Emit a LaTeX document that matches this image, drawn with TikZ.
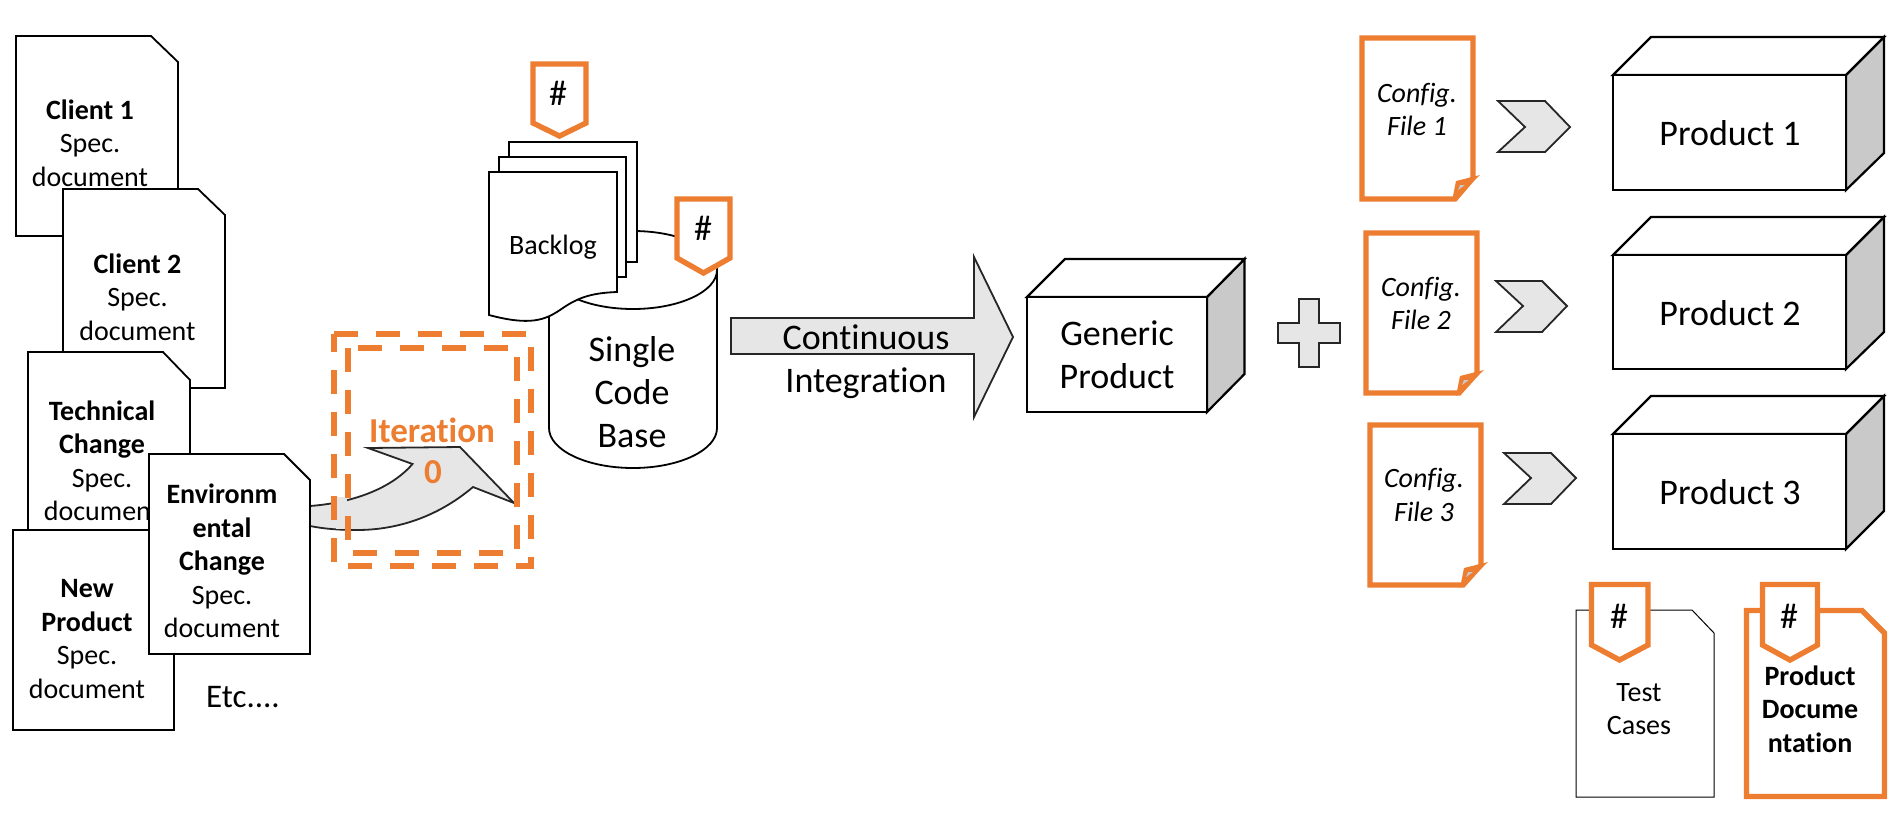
\documentclass[tikz,border=0pt]{standalone}
\usepackage{fontspec}
\setmainfont[Ligatures=NoCommon]{Carlito}
\usetikzlibrary{positioning}
\definecolor{accent}{HTML}{ED7D31}
\definecolor{arrowgrey}{HTML}{E6E6E6}
\definecolor{sidegrey}{HTML}{C9C9C9}
\tikzset{
  docline/.style={draw=black,line width=1.8pt,fill=white,line join=miter},
  orangedoc/.style={draw=accent,line width=5.4pt,fill=white,line join=miter},
  tagshape/.style={draw=accent,line width=5.4pt,fill=white,line join=miter},
  blockarrow/.style={draw=black!85,line width=1.8pt,fill=arrowgrey,line join=miter},
  cubeface/.style={draw=black,line width=2.2pt,fill=white,line join=miter},
  cubeside/.style={draw=black,line width=2.2pt,fill=sidegrey,line join=miter},
  dashbox/.style={draw=accent,line width=5.4pt,dash pattern=on 24pt off 18pt},
  small/.style={inner sep=0pt,align=center,font=\fontsize{28}{33.5}\selectfont},
  smallit/.style={inner sep=0pt,align=center,font=\fontsize{28}{33.5}\selectfont\itshape},
  large/.style={inner sep=0pt,align=center,font=\fontsize{36}{43}\selectfont},
  orangebold/.style={inner sep=0pt,font=\fontsize{35}{36}\selectfont\bfseries,text=accent},
  hash/.style={inner sep=0pt,font=\fontsize{36}{38}\selectfont}
}
\begin{document}
\begin{tikzpicture}[x=1pt,y=-1pt]
\useasboundingbox (0,0) rectangle (1898,833);
% spec documents
\draw[docline] (16,36) -- (151,36) -- (178,62) -- (178,236) -- (16,236) -- cycle;
\node[small] (client1) at (90,143) {\textbf{Client 1}\\Spec.\\document};
\draw[docline] (63,189) -- (198,189) -- (225,215) -- (225,388) -- (63,388) -- cycle;
\node[small] (client2) at (137.5,297) {\textbf{Client 2}\\Spec.\\document};
\draw[docline] (28,352) -- (163,352) -- (190,380) -- (190,552) -- (28,552) -- cycle;
\node[small] (techchange) at (102,461) {\textbf{Technical}\\\textbf{Change}\\Spec.\\document};
\draw[docline] (13,530) -- (174,530) -- (174,730) -- (13,730) -- cycle;
\node[small] (newproduct) at (87,639) {\textbf{New}\\\textbf{Product}\\Spec.\\document};
% curved arrow
\draw[blockarrow] (310,506) .. controls (350,503) and (390,490) .. (412.5,464) -- (368,448) -- (460,447) -- (514,503) -- (473,487)
  .. controls (440,515) and (400,530) .. (357,530) .. controls (340,530) and (325,529) .. (310,526);
\fill[arrowgrey] (336,497) rectangle (347,529);
\draw[docline] (149,454) -- (284,454) -- (310,480) -- (310,654) -- (149,654) -- cycle;
\node[small] (envchange) at (222,561) {\textbf{Environm}\\\textbf{ental}\\\textbf{Change}\\Spec.\\document};
\node[inner sep=0pt,font=\fontsize{33}{36}\selectfont] (etc) at (243,697) {Etc....};
% iteration frame
\draw[dashbox] (334,334) -- (531,334) -- (531,566) -- (334,566) -- cycle;
\draw[dashbox,dash phase=32pt] (348,348) -- (517,348) -- (517,553) -- (348,553) -- cycle;
\node[orangebold] (iteration) at (432,430) {Iteration};
\node[orangebold] (iterzero) at (433,472) {0};
% code base
\draw[docline] (549,428) -- (549,270) arc[start angle=180,end angle=0,x radius=84,y radius=39] -- (717,428)
  arc[start angle=0,end angle=180,x radius=84,y radius=40];
\draw[docline] (549,270) arc[start angle=180,end angle=360,x radius=84,y radius=39];
\node[large] (codebase) at (632,392) {Single\\Code\\Base};
% backlog
\draw[docline] (509,142) rectangle (637,262);
\draw[docline] (499,157) rectangle (626,277);
\draw[docline] (489,172) -- (617,172) -- (617,292) .. controls (590,293) and (577,298) .. (560,310)
  .. controls (545,320) and (530,326) .. (489,315) -- cycle;
\node[inner sep=0pt,font=\fontsize{28}{30}\selectfont] (backlog) at (553,247) {Backlog};
\draw[tagshape] (533,64) -- (586,64) -- (586,123) -- (559.5,136) -- (533,123) -- cycle;
\node[hash] (tagbacklog) at (558,93) {\#};
\draw[tagshape] (677,199) -- (730,199) -- (730,258) -- (703.5,273) -- (677,258) -- cycle;
\node[hash] (tagcode) at (703,228) {\#};
% continuous integration
\draw[blockarrow] (731,318) -- (974,318) -- (974,257) -- (1013,337) -- (974,417) -- (974,354) -- (731,354) -- cycle;
\node[large] (ci) at (866,362) {Continuous\\Integration};
% generic product
\draw[cubeside] (1207,297) -- (1244.5,259) -- (1244.5,374) -- (1207,412) -- cycle;
\draw[cubeface] (1027,297) -- (1065,259) -- (1244.5,259) -- (1207,297) -- cycle;
\draw[cubeface] (1027,297) rectangle (1207,412);
\node[large] (generic) at (1117,355) {Generic\\Product};
% plus
\draw[blockarrow] (1299,299) -- (1319,299) -- (1319,323) -- (1340,323) -- (1340,343) -- (1319,343) -- (1319,367)
  -- (1299,367) -- (1299,343) -- (1278,343) -- (1278,323) -- (1299,323) -- cycle;
% config files
\draw[orangedoc] (1362,38) -- (1473,38) -- (1473,178) -- (1455,199) -- (1362,199) -- cycle;
\fill[accent] (1480,175) -- (1456,181) -- (1452,201) -- cycle;
\fill[sidegrey] (1458,190) -- (1460,185) -- (1465,185) -- cycle;
\node[smallit] (config1) at (1417,109.5) {Config.\\File 1};
\draw[orangedoc] (1366,233) -- (1477,233) -- (1477,373) -- (1459,393) -- (1366,393) -- cycle;
\fill[accent] (1484,370) -- (1460,376) -- (1456,396) -- cycle;
\fill[sidegrey] (1462,385) -- (1464,380) -- (1469,380) -- cycle;
\node[smallit] (config2) at (1421,303.5) {Config.\\File 2};
\draw[orangedoc] (1370,425) -- (1481,425) -- (1481,565) -- (1463,585) -- (1370,585) -- cycle;
\fill[accent] (1488,562) -- (1464,568) -- (1460,588) -- cycle;
\fill[sidegrey] (1466,577) -- (1468,572) -- (1473,572) -- cycle;
\node[smallit] (config3) at (1424,495) {Config.\\File 3};
% chevrons
\draw[blockarrow] (1498,101) -- (1545,101) -- (1570,127) -- (1545,152) -- (1498,152) -- (1525,127) -- cycle;
\draw[blockarrow] (1496,281) -- (1542,281) -- (1567,306) -- (1542,332) -- (1496,332) -- (1523,306) -- cycle;
\draw[blockarrow] (1504,453) -- (1551,453) -- (1576,478) -- (1551,504) -- (1504,504) -- (1531,478) -- cycle;
% products
\draw[cubeside] (1846,75) -- (1884,37) -- (1884,153) -- (1846,190) -- cycle;
\draw[cubeface] (1613,75) -- (1651,37) -- (1884,37) -- (1846,75) -- cycle;
\draw[cubeface] (1613,75) rectangle (1846,190);
\node[large] (product1) at (1730,133) {Product 1};
\draw[cubeside] (1846,255) -- (1884,217) -- (1884,332) -- (1846,369) -- cycle;
\draw[cubeface] (1613,255) -- (1651,217) -- (1884,217) -- (1846,255) -- cycle;
\draw[cubeface] (1613,255) rectangle (1846,369);
\node[large] (product2) at (1730,313) {Product 2};
\draw[cubeside] (1846,434) -- (1884,396) -- (1884,511) -- (1846,549) -- cycle;
\draw[cubeface] (1613,434) -- (1651,396) -- (1884,396) -- (1846,434) -- cycle;
\draw[cubeface] (1613,434) rectangle (1846,549);
\node[large] (product3) at (1730,492) {Product 3};
% test cases and documentation
\draw[draw=black,line width=1pt,fill=white] (1576,610) -- (1692,610) -- (1714,633) -- (1714,797) -- (1576,797) -- cycle;
\node[small] (testcases) at (1639,709) {Test\\Cases};
\draw[tagshape] (1591.5,584.5) -- (1648,584.5) -- (1648,645) -- (1619.5,660) -- (1591.5,645) -- cycle;
\node[hash] (tagtest) at (1619,616) {\#};
\draw[orangedoc] (1746.5,610.5) -- (1862,610.5) -- (1884.5,633) -- (1884.5,796.5) -- (1746.5,796.5) -- cycle;
\node[small] (proddoc) at (1810,709) {\textbf{Product}\\\textbf{Docume}\\\textbf{ntation}};
\draw[tagshape] (1762.5,584.5) -- (1817.5,584.5) -- (1817.5,645) -- (1790,660) -- (1762.5,645) -- cycle;
\node[hash] (tagdoc) at (1789,616) {\#};
\end{tikzpicture}
\end{document}
